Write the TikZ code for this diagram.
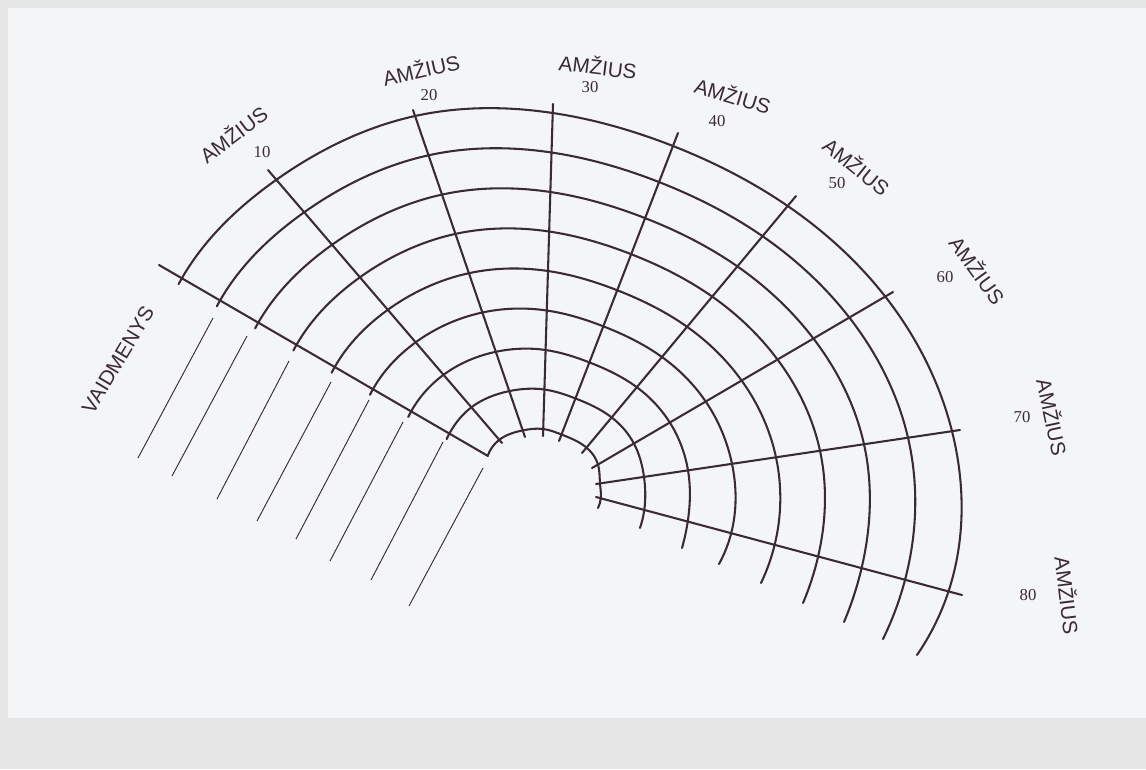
\documentclass[tikz,border=0pt]{standalone}
\usepackage{fontspec}
\setmainfont{Liberation Serif}
\newfontfamily\hand{Liberation Sans}
\usetikzlibrary{calc,hobby}
\definecolor{ink}{HTML}{3A2A34}
\definecolor{paper}{HTML}{F4F5F7}
\definecolor{framegrey}{HTML}{E6E6E6}
\begin{document}
\begin{tikzpicture}[x=0.75pt,y=-0.75pt,
  ringline/.style={draw=ink, line width=1.55pt, line cap=round, line join=round},
  spokeline/.style={draw=ink, line width=1.55pt, line cap=round},
  thinline/.style={draw=ink, line width=0.7pt},
  agetext/.style={text=ink, font=\hand\fontsize{15.5}{16}\selectfont, inner sep=0pt},
  numtext/.style={text=ink, font=\fontsize{12.5}{13}\selectfont, inner sep=0pt}]
% background
\fill[framegrey] (0,0) rectangle (1146,769);
\fill[paper] (8,8) rectangle (1146,718);
\useasboundingbox (0,0) rectangle (1146,769);
\coordinate (C) at (545,485);
% spoke ends
\coordinate (T0) at (159,265); \coordinate (B0) at (488,456);
\coordinate (T1) at (268,170); \coordinate (B1) at (502,443);
\coordinate (T2) at (413,110); \coordinate (B2) at (525,437);
\coordinate (T3) at (553,104); \coordinate (B3) at (543,436);
\coordinate (T4) at (678,133); \coordinate (B4) at (559,441);
\coordinate (T5) at (796,196); \coordinate (B5) at (582,453);
\coordinate (T6) at (893,292); \coordinate (B6) at (592,468);
\coordinate (T7) at (960,430); \coordinate (B7) at (596,484);
\coordinate (T8) at (962,595); \coordinate (B8) at (596,497);
% inner / outer ring crossings on each spoke
\coordinate (I0) at (488,455);   \coordinate (O0) at (182,278);
\coordinate (I1) at (499,440);   \coordinate (O1) at (276,180);
\coordinate (I2) at (522.7,430.4); \coordinate (O2) at (415,116);
\coordinate (I3) at (543.2,429); \coordinate (O3) at (552.8,113);
\coordinate (I4) at (561.5,434.5); \coordinate (O4) at (673,146);
\coordinate (I5) at (586.5,447.6); \coordinate (O5) at (787.7,206);
\coordinate (I6) at (598,464.5); \coordinate (O6) at (885.2,296.5);
\coordinate (I7) at (600,483.4); \coordinate (O7) at (952,431.2);
\coordinate (I8) at (600.8,498.3); \coordinate (O8) at (948.5,591.4);
% ring end points (lower right)
\coordinate (E0) at (598,508); \coordinate (E1) at (640,528);
\coordinate (E2) at (682,548); \coordinate (E3) at (719,564);
\coordinate (E4) at (761,583); \coordinate (E5) at (803,603);
\coordinate (E6) at (844,622); \coordinate (E7) at (883,639);
\coordinate (E8) at (917,655);
% ring crossings
\foreach \j in {0,...,8}{
  \foreach \k in {0,...,8}{
    \coordinate (r\k-\j) at ($(I\j)!\k/8!(O\j)$);
  }
}
% short overshoot of each ring past the left line
\foreach \k [evaluate=\k as \ang using 400/(64+44*\k)] in {1,...,8}{
  \coordinate (s\k) at ($(C)!1!\ang:(r\k-0)$);
}
% rings
\draw[ringline] (r0-0) to[curve through={(r0-1) (r0-2) (r0-3) (r0-4) (r0-5) (r0-6) (r0-7) (r0-8)}] (E0);
\foreach \k in {1,...,8}{
  \draw[ringline] (s\k) to[curve through={(r\k-0) (r\k-1) (r\k-2) (r\k-3) (r\k-4) (r\k-5) (r\k-6) (r\k-7) (r\k-8)}] (E\k);
}
% spokes
\foreach \j in {0,...,8}{
  \draw[spokeline] (T\j) -- (B\j);
}
% thin role lines
\coordinate (La1) at (213,318); \coordinate (Lb1) at (138,458);
\coordinate (La2) at (247,336); \coordinate (Lb2) at (172,476);
\coordinate (La3) at (289,361); \coordinate (Lb3) at (217,499);
\coordinate (La4) at (331,382); \coordinate (Lb4) at (257,521);
\coordinate (La5) at (369,400); \coordinate (Lb5) at (296,539);
\coordinate (La6) at (403,422); \coordinate (Lb6) at (330,561);
\coordinate (La7) at (443,442); \coordinate (Lb7) at (371,580);
\coordinate (La8) at (483,468); \coordinate (Lb8) at (409,606);
\foreach \i in {1,...,8}{
  \draw[thinline] (La\i) -- (Lb\i);
}
% labels
\node[agetext, rotate=37] (a10) at (233,134) {AMŽIUS};
\node[numtext] (n10) at (262,152) {10};
\node[agetext, rotate=13] (a20) at (421,69) {AMŽIUS};
\node[numtext] (n20) at (429,95) {20};
\node[agetext, rotate=-7] (a30) at (598,66) {AMŽIUS};
\node[numtext] (n30) at (590,87) {30};
\node[agetext, rotate=-17] (a40) at (733,95) {AMŽIUS};
\node[numtext] (n40) at (717,121) {40};
\node[agetext, rotate=-39] (a50) at (857,166) {AMŽIUS};
\node[numtext] (n50) at (837,183) {50};
\node[agetext, rotate=-54] (a60) at (978,270) {AMŽIUS};
\node[numtext] (n60) at (945,277) {60};
\node[agetext, rotate=-78] (a70) at (1053,417) {AMŽIUS};
\node[numtext] (n70) at (1022,417) {70};
\node[agetext, rotate=-83] (a80) at (1068,595) {AMŽIUS};
\node[numtext] (n80) at (1028,595) {80};
\node[agetext, rotate=59] (roles) at (118,360) {VAIDMENYS};
\end{tikzpicture}
\end{document}
